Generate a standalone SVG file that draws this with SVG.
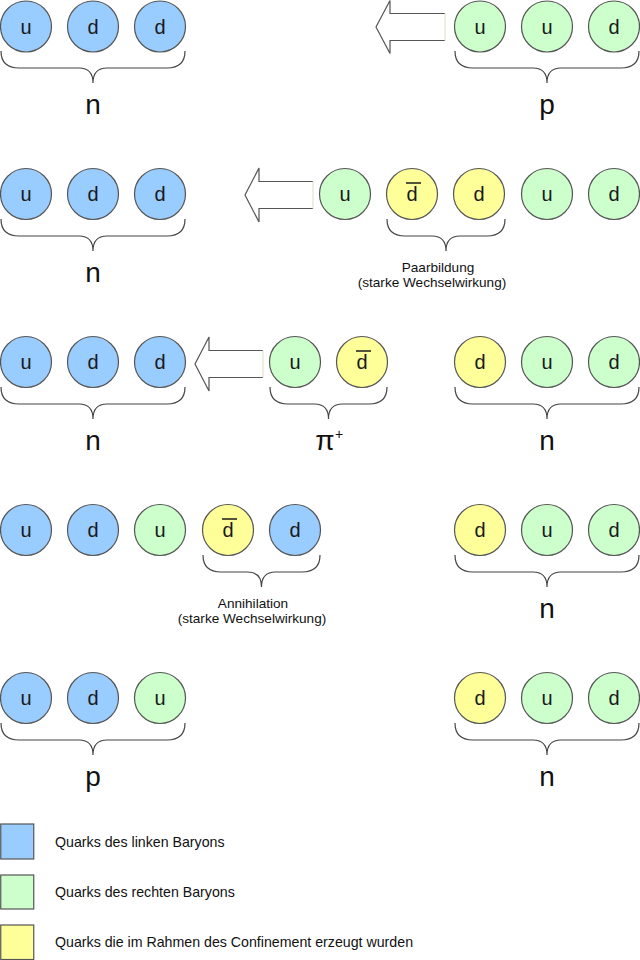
<svg xmlns="http://www.w3.org/2000/svg" width="640" height="960" viewBox="0 0 640 960">
<style>
.q{stroke:#555;stroke-width:1.2}
.b{fill:#99ccff}.g{fill:#ccffcc}.y{fill:#ffff99}
.ql{font-family:"Liberation Sans",Arial,sans-serif;font-size:20px;fill:#1a1a1a;text-anchor:middle}
.bar{stroke:#1a1a1a;stroke-width:1.5}
.br{fill:none;stroke:#444;stroke-width:1.2}
.big{font-family:"Liberation Sans",Arial,sans-serif;font-size:28px;fill:#111;text-anchor:middle}
.sm{font-family:"Liberation Sans",Arial,sans-serif;font-size:13.6px;fill:#111;text-anchor:middle}
.lg{font-family:"Liberation Sans",Arial,sans-serif;font-size:14.2px;fill:#111}
.ar{fill:#fff;stroke:none}
.ao{fill:none;stroke:#555;stroke-width:1.2;stroke-linejoin:miter}
.ae{stroke:#e4e4cc;stroke-width:1.2}
</style>
<rect width="640" height="960" fill="#fff"/>

<!-- Row 1 -->
<g id="r1-left">
<circle class="q b" cx="26" cy="26.5" r="25.5"/><text class="ql" x="26" y="33.5">u</text>
<circle class="q b" cx="93" cy="26.5" r="25.5"/><text class="ql" x="93" y="33.5">d</text>
<circle class="q b" cx="160" cy="26.5" r="25.5"/><text class="ql" x="160" y="33.5">d</text>
</g>
<g id="r1-right">
<circle class="q g" cx="480" cy="26.5" r="25.5"/><text class="ql" x="480" y="33.5">u</text>
<circle class="q g" cx="547" cy="26.5" r="25.5"/><text class="ql" x="547" y="33.5">u</text>
<circle class="q g" cx="614" cy="26.5" r="25.5"/><text class="ql" x="614" y="33.5">d</text>
</g>

<!-- Row 2 -->
<g id="r2-left">
<circle class="q b" cx="26" cy="194" r="25.5"/><text class="ql" x="26" y="201">u</text>
<circle class="q b" cx="93" cy="194" r="25.5"/><text class="ql" x="93" y="201">d</text>
<circle class="q b" cx="160" cy="194" r="25.5"/><text class="ql" x="160" y="201">d</text>
</g>
<g id="r2-right">
<circle class="q g" cx="345" cy="194" r="25.5"/><text class="ql" x="345" y="201">u</text>
<circle class="q y" cx="412" cy="194" r="25.5"/><text class="ql" x="412" y="201">d</text><line class="bar" x1="406" y1="183" x2="421" y2="183"/>
<circle class="q y" cx="479" cy="194" r="25.5"/><text class="ql" x="479" y="201">d</text>
<circle class="q g" cx="547" cy="194" r="25.5"/><text class="ql" x="547" y="201">u</text>
<circle class="q g" cx="614" cy="194" r="25.5"/><text class="ql" x="614" y="201">d</text>
</g>

<!-- Row 3 -->
<g id="r3-left">
<circle class="q b" cx="26" cy="362" r="25.5"/><text class="ql" x="26" y="369">u</text>
<circle class="q b" cx="93" cy="362" r="25.5"/><text class="ql" x="93" y="369">d</text>
<circle class="q b" cx="160" cy="362" r="25.5"/><text class="ql" x="160" y="369">d</text>
</g>
<g id="r3-pion">
<circle class="q g" cx="295" cy="362" r="25.5"/><text class="ql" x="295" y="369">u</text>
<circle class="q y" cx="362" cy="362" r="25.5"/><text class="ql" x="362" y="369">d</text><line class="bar" x1="356" y1="351" x2="371" y2="351"/>
</g>
<g id="r3-right">
<circle class="q y" cx="480" cy="362" r="25.5"/><text class="ql" x="480" y="369">d</text>
<circle class="q g" cx="547" cy="362" r="25.5"/><text class="ql" x="547" y="369">u</text>
<circle class="q g" cx="614" cy="362" r="25.5"/><text class="ql" x="614" y="369">d</text>
</g>

<!-- Row 4 -->
<g id="r4-left">
<circle class="q b" cx="26" cy="530" r="25.5"/><text class="ql" x="26" y="537">u</text>
<circle class="q b" cx="93" cy="530" r="25.5"/><text class="ql" x="93" y="537">d</text>
<circle class="q g" cx="160" cy="530" r="25.5"/><text class="ql" x="160" y="537">u</text>
<circle class="q y" cx="228" cy="530" r="25.5"/><text class="ql" x="228" y="537">d</text><line class="bar" x1="222" y1="519" x2="237" y2="519"/>
<circle class="q b" cx="295" cy="530" r="25.5"/><text class="ql" x="295" y="537">d</text>
</g>
<g id="r4-right">
<circle class="q y" cx="480" cy="530" r="25.5"/><text class="ql" x="480" y="537">d</text>
<circle class="q g" cx="547" cy="530" r="25.5"/><text class="ql" x="547" y="537">u</text>
<circle class="q g" cx="614" cy="530" r="25.5"/><text class="ql" x="614" y="537">d</text>
</g>

<!-- Row 5 -->
<g id="r5-left">
<circle class="q b" cx="26" cy="698" r="25.5"/><text class="ql" x="26" y="705">u</text>
<circle class="q b" cx="93" cy="698" r="25.5"/><text class="ql" x="93" y="705">d</text>
<circle class="q g" cx="160" cy="698" r="25.5"/><text class="ql" x="160" y="705">u</text>
</g>
<g id="r5-right">
<circle class="q y" cx="480" cy="698" r="25.5"/><text class="ql" x="480" y="705">d</text>
<circle class="q g" cx="547" cy="698" r="25.5"/><text class="ql" x="547" y="705">u</text>
<circle class="q g" cx="614" cy="698" r="25.5"/><text class="ql" x="614" y="705">d</text>
</g>

<!-- Braces and labels -->
<g id="braces">
<path class="br" d="M1 51 Q1 68 19 68 L79 68 Q93 68 93 83 Q93 68 107 68 L167 68 Q185 68 185 51"/>
<path class="br" d="M455 51 Q455 68 473 68 L533 68 Q547 68 547 83 Q547 68 561 68 L621 68 Q639 68 639 51"/>
<path class="br" d="M1 219 Q1 236 19 236 L79 236 Q93 236 93 251 Q93 236 107 236 L167 236 Q185 236 185 219"/>
<path class="br" d="M387 219 Q387 236 405 236 L432 236 Q446 236 446 251 Q446 236 460 236 L487 236 Q505 236 505 219"/>
<path class="br" d="M1 387 Q1 404 19 404 L79 404 Q93 404 93 419 Q93 404 107 404 L167 404 Q185 404 185 387"/>
<path class="br" d="M270 387 Q270 404 288 404 L314.5 404 Q328.5 404 328.5 419 Q328.5 404 342.5 404 L369 404 Q387 404 387 387"/>
<path class="br" d="M455 387 Q455 404 473 404 L533 404 Q547 404 547 419 Q547 404 561 404 L621 404 Q639 404 639 387"/>
<path class="br" d="M203 555 Q203 572 221 572 L247.5 572 Q261.5 572 261.5 587 Q261.5 572 275.5 572 L302 572 Q320 572 320 555"/>
<path class="br" d="M455 555 Q455 572 473 572 L533 572 Q547 572 547 587 Q547 572 561 572 L621 572 Q639 572 639 555"/>
<path class="br" d="M1 723 Q1 740 19 740 L79 740 Q93 740 93 755 Q93 740 107 740 L167 740 Q185 740 185 723"/>
<path class="br" d="M455 723 Q455 740 473 740 L533 740 Q547 740 547 755 Q547 740 561 740 L621 740 Q639 740 639 723"/>
</g>
<g id="labels">
<text class="big" x="93" y="114">n</text>
<text class="big" x="547" y="114">p</text>
<text class="big" x="93" y="282">n</text>
<text class="sm" x="438" y="272">Paarbildung</text>
<text class="sm" x="432" y="287">(starke Wechselwirkung)</text>
<text class="big" x="93" y="450">n</text>
<text class="big" x="325" y="450">π</text>
<text class="big" x="339" y="439" style="font-size:14px">+</text>
<text class="big" x="547" y="450">n</text>
<text class="sm" x="253" y="608">Annihilation</text>
<text class="sm" x="252" y="623">(starke Wechselwirkung)</text>
<text class="big" x="547" y="618">n</text>
<text class="big" x="93" y="786">p</text>
<text class="big" x="547" y="786">n</text>
</g>

<!-- Arrows -->
<g id="connectors">
<g id="arrow1">
<path class="ar" d="M445 13.5 L390 13.5 L390 0.5 L376 27 L390 53.5 L390 40.5 L445 40.5 Z"/>
<path class="ao" d="M445 13.5 L390 13.5 L390 0.5 L376 27 L390 53.5 L390 40.5 L445 40.5"/>
<line class="ae" x1="445" y1="13.5" x2="445" y2="40.5"/>
</g>
<g id="arrow2">
<path class="ar" d="M313 181.5 L259 181.5 L259 168 L245 195 L259 222 L259 208.5 L313 208.5 Z"/>
<path class="ao" d="M313 181.5 L259 181.5 L259 168 L245 195 L259 222 L259 208.5 L313 208.5"/>
<line class="ae" x1="313" y1="181.5" x2="313" y2="208.5"/>
</g>
<g id="arrow3">
<path class="ar" d="M263 350.5 L209 350.5 L209 337 L195 364 L209 391 L209 377.5 L263 377.5 Z"/>
<path class="ao" d="M263 350.5 L209 350.5 L209 337 L195 364 L209 391 L209 377.5 L263 377.5"/>
<line class="ae" x1="263" y1="350.5" x2="263" y2="377.5"/>
</g>
</g>

<!-- Legend -->
<g id="legend">
<rect class="q b" x="0.75" y="824" width="33" height="35"/>
<text class="lg" x="55" y="847">Quarks des linken Baryons</text>
<rect class="q g" x="0.75" y="875" width="33" height="34"/>
<text class="lg" x="55" y="897">Quarks des rechten Baryons</text>
<rect class="q y" x="0.75" y="925" width="33" height="34.5"/>
<text class="lg" x="55" y="947">Quarks die im Rahmen des Confinement erzeugt wurden</text>
</g>
</svg>
